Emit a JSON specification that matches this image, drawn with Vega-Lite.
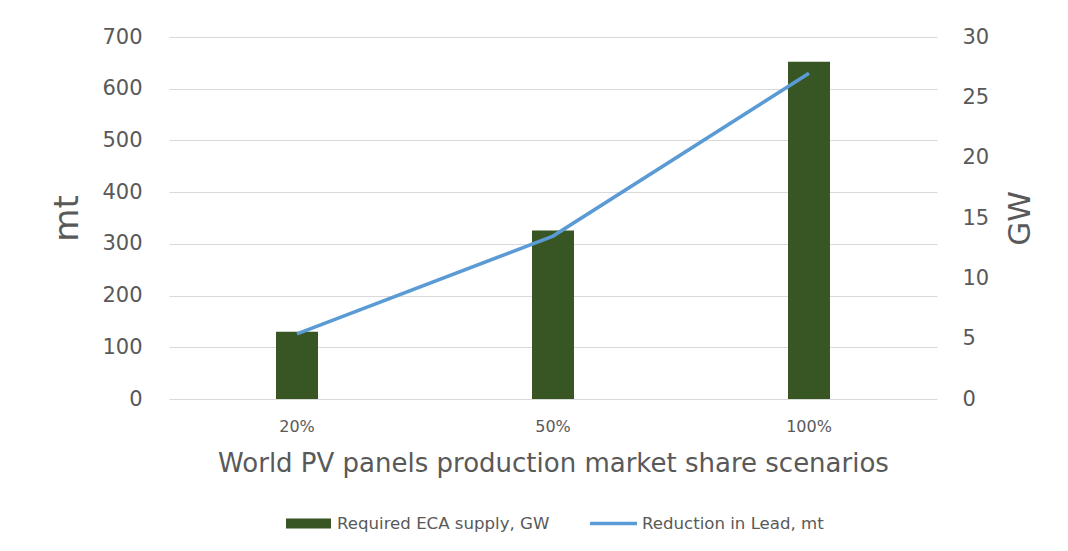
{
  "$schema": "https://vega.github.io/schema/vega-lite/v6.json",
  "width": 768,
  "height": 362,
  "autosize": {"type": "none"},
  "padding": {"left": 169, "top": 37, "right": 131, "bottom": 152},
  "data": {
    "values": [
      {"scenario": "20%", "eca_gw": 5.57, "lead_mt": 126},
      {"scenario": "50%", "eca_gw": 13.97, "lead_mt": 315},
      {"scenario": "100%", "eca_gw": 27.95, "lead_mt": 630}
    ]
  },
  "encoding": {
    "x": {
      "field": "scenario",
      "type": "nominal",
      "sort": ["20%", "50%", "100%"],
      "scale": {"paddingInner": 0, "paddingOuter": 0},
      "axis": {
        "title": "World PV panels production market share scenarios",
        "labelAngle": 0,
        "labelFontSize": 16,
        "labelPadding": 19,
        "labelColor": "#595959",
        "ticks": false,
        "domain": false,
        "titleFontSize": 26,
        "titleFontWeight": "normal",
        "titleColor": "#595959",
        "titlePadding": 16
      }
    }
  },
  "layer": [
    {
      "mark": {"type": "bar", "size": 42},
      "encoding": {
        "y": {
          "field": "eca_gw",
          "type": "quantitative",
          "scale": {"domain": [0, 30], "nice": false},
          "axis": {
            "orient": "right",
            "title": "GW",
            "values": [0, 5, 10, 15, 20, 25, 30],
            "grid": false,
            "ticks": false,
            "domain": false,
            "labelFontSize": 21,
            "labelPadding": 25,
            "labelColor": "#595959",
            "titleFontSize": 31,
            "titleFontWeight": "normal",
            "titleColor": "#595959",
            "titleAngle": 270,
            "titleBaseline": "top",
            "titlePadding": 17
          }
        },
        "color": {
          "datum": "Required ECA supply, GW",
          "scale": {"range": ["#375623"]},
          "legend": {
            "title": null,
            "orient": "bottom",
            "symbolType": "M-0.957,-0.21H0.957V0.21H-0.957Z",
            "symbolSize": 2209,
            "symbolStrokeWidth": 3.5,
            "symbolStrokeColor": "transparent",
            "labelFontSize": 16.6,
            "labelLimit": 0,
            "labelColor": "#595959",
            "labelOffset": 3,
            "offset": 22
          }
        }
      }
    },
    {
      "mark": {"type": "line", "strokeWidth": 3.5},
      "encoding": {
        "y": {
          "field": "lead_mt",
          "type": "quantitative",
          "scale": {"domain": [0, 700], "nice": false},
          "axis": {
            "orient": "left",
            "title": "mt",
            "values": [0, 100, 200, 300, 400, 500, 600, 700],
            "grid": true,
            "gridColor": "#D9D9D9",
            "gridWidth": 1,
            "ticks": false,
            "domain": false,
            "labelFontSize": 21,
            "labelPadding": 27,
            "labelColor": "#595959",
            "titleFontSize": 34,
            "titleFontWeight": "normal",
            "titleColor": "#595959",
            "titlePadding": 17
          }
        },
        "stroke": {
          "datum": "Reduction in Lead, mt",
          "scale": {"range": ["#5B9BD5"]},
          "legend": {
            "title": null,
            "orient": "bottom",
            "symbolType": "stroke",
            "symbolSize": 2209,
            "symbolStrokeWidth": 3.5,
            "labelFontSize": 16.6,
            "labelLimit": 0,
            "labelColor": "#595959",
            "labelOffset": 3,
            "offset": 22
          }
        }
      }
    }
  ],
  "resolve": {"scale": {"y": "independent"}},
  "config": {
    "font": "DejaVu Sans",
    "view": {"stroke": null},
    "legend": {"layout": {"bottom": {"anchor": "middle", "direction": "horizontal", "margin": 38}}}
  }
}
